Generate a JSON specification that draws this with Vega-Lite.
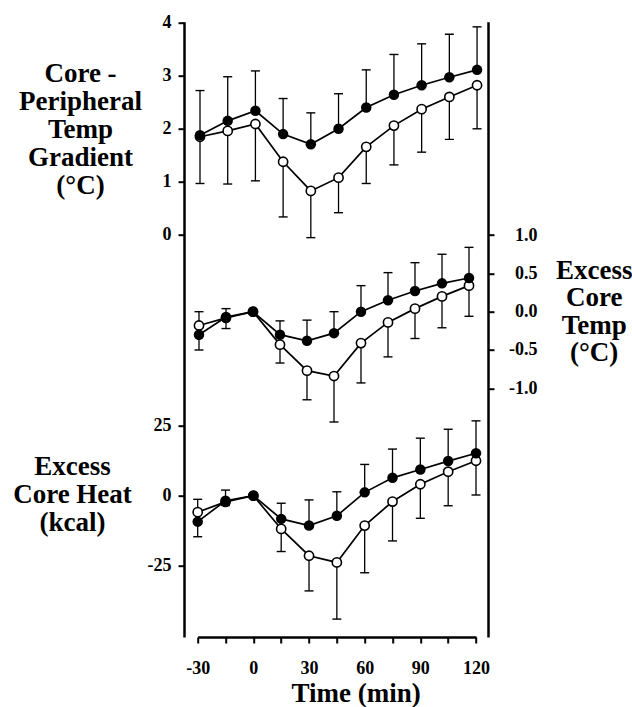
{
  "$schema": "https://vega.github.io/schema/vega-lite/v6.json",
  "width": 278.3,
  "height": 615.3,
  "autosize": "none",
  "padding": {"left": 197.7, "top": 21.7, "right": 156, "bottom": 70},
  "background": "white",
  "config": {
    "view": {"stroke": null},
    "axis": {
      "grid": false,
      "labelFont": "Liberation Serif",
      "labelFontWeight": "bold",
      "labelFontSize": 18,
      "labelColor": "black",
      "titleFont": "Liberation Serif",
      "titleFontWeight": "bold",
      "titleFontSize": 27,
      "titleColor": "black",
      "domainColor": "black",
      "domainWidth": 2.5,
      "tickColor": "black",
      "tickWidth": 2,
      "tickSize": 6,
      "labelOverlap": false,
      "labelFlush": false
    }
  },
  "data": {
    "values": [
      {"p": "top", "t": -30, "s": "f", "v": 1.88, "e": 2.72},
      {"p": "top", "t": -15, "s": "f", "v": 2.15, "e": 2.98},
      {"p": "top", "t": 0, "s": "f", "v": 2.34, "e": 3.09},
      {"p": "top", "t": 15, "s": "f", "v": 1.9, "e": 2.57},
      {"p": "top", "t": 30, "s": "f", "v": 1.71, "e": 2.3},
      {"p": "top", "t": 45, "s": "f", "v": 2.0, "e": 2.66},
      {"p": "top", "t": 60, "s": "f", "v": 2.4, "e": 3.11},
      {"p": "top", "t": 75, "s": "f", "v": 2.64, "e": 3.4},
      {"p": "top", "t": 90, "s": "f", "v": 2.82, "e": 3.6},
      {"p": "top", "t": 105, "s": "f", "v": 2.97, "e": 3.78},
      {"p": "top", "t": 120, "s": "f", "v": 3.11, "e": 3.92},
      {"p": "top", "t": -30, "s": "o", "v": 1.85, "e": 0.97},
      {"p": "top", "t": -15, "s": "o", "v": 1.96, "e": 0.96},
      {"p": "top", "t": 0, "s": "o", "v": 2.09, "e": 1.02},
      {"p": "top", "t": 15, "s": "o", "v": 1.38, "e": 0.34},
      {"p": "top", "t": 30, "s": "o", "v": 0.83, "e": -0.05},
      {"p": "top", "t": 45, "s": "o", "v": 1.08, "e": 0.42},
      {"p": "top", "t": 60, "s": "o", "v": 1.66, "e": 0.97},
      {"p": "top", "t": 75, "s": "o", "v": 2.06, "e": 1.32},
      {"p": "top", "t": 90, "s": "o", "v": 2.37, "e": 1.56},
      {"p": "top", "t": 105, "s": "o", "v": 2.6, "e": 1.8},
      {"p": "top", "t": 120, "s": "o", "v": 2.82, "e": 2.0},
      {"p": "mid", "t": -30, "s": "f", "v": -0.3, "e": 0.0},
      {"p": "mid", "t": -15, "s": "f", "v": -0.07, "e": 0.04},
      {"p": "mid", "t": 0, "s": "f", "v": 0.0, "e": 0.0},
      {"p": "mid", "t": 15, "s": "f", "v": -0.3, "e": -0.12},
      {"p": "mid", "t": 30, "s": "f", "v": -0.38, "e": -0.11},
      {"p": "mid", "t": 45, "s": "f", "v": -0.28, "e": 0.0},
      {"p": "mid", "t": 60, "s": "f", "v": 0.0, "e": 0.34},
      {"p": "mid", "t": 75, "s": "f", "v": 0.15, "e": 0.51},
      {"p": "mid", "t": 90, "s": "f", "v": 0.27, "e": 0.64},
      {"p": "mid", "t": 105, "s": "f", "v": 0.37, "e": 0.75},
      {"p": "mid", "t": 120, "s": "f", "v": 0.44, "e": 0.84},
      {"p": "mid", "t": -30, "s": "o", "v": -0.18, "e": -0.5},
      {"p": "mid", "t": -15, "s": "o", "v": -0.08, "e": -0.22},
      {"p": "mid", "t": 0, "s": "o", "v": 0.0, "e": 0.0},
      {"p": "mid", "t": 15, "s": "o", "v": -0.43, "e": -0.67},
      {"p": "mid", "t": 30, "s": "o", "v": -0.77, "e": -1.15},
      {"p": "mid", "t": 45, "s": "o", "v": -0.84, "e": -1.44},
      {"p": "mid", "t": 60, "s": "o", "v": -0.41, "e": -0.93},
      {"p": "mid", "t": 75, "s": "o", "v": -0.14, "e": -0.59},
      {"p": "mid", "t": 90, "s": "o", "v": 0.04, "e": -0.35},
      {"p": "mid", "t": 105, "s": "o", "v": 0.2, "e": -0.21},
      {"p": "mid", "t": 120, "s": "o", "v": 0.34, "e": -0.06},
      {"p": "bot", "t": -30, "s": "f", "v": -9.3, "e": -1.3},
      {"p": "bot", "t": -15, "s": "f", "v": -1.8, "e": 2.0},
      {"p": "bot", "t": 0, "s": "f", "v": 0.0, "e": 0.0},
      {"p": "bot", "t": 15, "s": "f", "v": -8.3, "e": -2.7},
      {"p": "bot", "t": 30, "s": "f", "v": -10.7, "e": -1.5},
      {"p": "bot", "t": 45, "s": "f", "v": -7.2, "e": 1.4},
      {"p": "bot", "t": 60, "s": "f", "v": 1.2, "e": 11.2},
      {"p": "bot", "t": 75, "s": "f", "v": 6.4, "e": 16.7},
      {"p": "bot", "t": 90, "s": "f", "v": 9.4, "e": 20.6},
      {"p": "bot", "t": 105, "s": "f", "v": 12.4, "e": 23.8},
      {"p": "bot", "t": 120, "s": "f", "v": 15.2, "e": 26.8},
      {"p": "bot", "t": -30, "s": "o", "v": -5.9, "e": -14.7},
      {"p": "bot", "t": -15, "s": "o", "v": -2.2, "e": -3.5},
      {"p": "bot", "t": 0, "s": "o", "v": 0.0, "e": 0.0},
      {"p": "bot", "t": 15, "s": "o", "v": -11.9, "e": -20.0},
      {"p": "bot", "t": 30, "s": "o", "v": -21.5, "e": -34.1},
      {"p": "bot", "t": 45, "s": "o", "v": -23.9, "e": -44.2},
      {"p": "bot", "t": 60, "s": "o", "v": -10.7, "e": -27.6},
      {"p": "bot", "t": 75, "s": "o", "v": -2.1, "e": -16.2},
      {"p": "bot", "t": 90, "s": "o", "v": 4.1, "e": -8.1},
      {"p": "bot", "t": 105, "s": "o", "v": 8.6, "e": -3.6},
      {"p": "bot", "t": 120, "s": "o", "v": 12.5, "e": 0.25}
    ]
  },
  "layer": [
    {
      "transform": [{"filter": "datum.p === 'top'"}],
      "mark": {"type": "rule", "strokeWidth": 1.3, "color": "black"},
      "encoding": {
        "x": {"field": "t", "type": "quantitative", "scale": {"domain": [-31.245, 119.43], "nice": false, "zero": false}, "axis": null},
        "y": {
          "field": "v", "type": "quantitative",
          "scale": {"domain": [-7.571, 4.017], "nice": false, "zero": false},
          "axis": {
            "orient": "left", "offset": 13.7, "values": [0, 1, 2, 3, 4], "labelPadding": 7,
            "title": ["Core -", "Peripheral", "Temp", "Gradient", "(°C)"],
            "titleAngle": 0, "titleX": -104, "titleY": 59.3, "titleAlign": "center", "titleBaseline": "alphabetic", "titleLineHeight": 28
          }
        },
        "y2": {"field": "e"}
      }
    },
    {
      "transform": [{"filter": "datum.p === 'top'"}],
      "mark": {"type": "tick", "orient": "horizontal", "size": 9, "thickness": 1.4, "color": "black", "opacity": 1},
      "encoding": {
        "x": {"field": "t", "type": "quantitative", "scale": {"domain": [-31.245, 119.43], "nice": false, "zero": false}, "axis": null},
        "y": {"field": "e", "type": "quantitative", "scale": {"domain": [-7.571, 4.017], "nice": false, "zero": false}, "axis": null}
      }
    },
    {
      "transform": [{"filter": "datum.p === 'top'"}],
      "mark": {"type": "line", "strokeWidth": 1.7, "color": "black"},
      "encoding": {
        "x": {"field": "t", "type": "quantitative", "scale": {"domain": [-31.245, 119.43], "nice": false, "zero": false}, "axis": null},
        "y": {"field": "v", "type": "quantitative", "scale": {"domain": [-7.571, 4.017], "nice": false, "zero": false}, "axis": null},
        "detail": {"field": "s"}
      }
    },
    {
      "transform": [{"filter": "datum.p === 'top' && datum.s === 'o'"}],
      "mark": {"type": "point", "shape": "circle", "filled": true, "fill": "white", "stroke": "black", "strokeWidth": 1.6, "size": 85, "opacity": 1},
      "encoding": {
        "x": {"field": "t", "type": "quantitative", "scale": {"domain": [-31.245, 119.43], "nice": false, "zero": false}, "axis": null},
        "y": {"field": "v", "type": "quantitative", "scale": {"domain": [-7.571, 4.017], "nice": false, "zero": false}, "axis": null}
      }
    },
    {
      "transform": [{"filter": "datum.p === 'top' && datum.s === 'f'"}],
      "mark": {"type": "point", "shape": "circle", "filled": true, "color": "black", "size": 110, "opacity": 1},
      "encoding": {
        "x": {"field": "t", "type": "quantitative", "scale": {"domain": [-31.245, 119.43], "nice": false, "zero": false}, "axis": null},
        "y": {"field": "v", "type": "quantitative", "scale": {"domain": [-7.571, 4.017], "nice": false, "zero": false}, "axis": null}
      }
    },
    {
      "transform": [{"filter": "datum.p === 'mid'"}],
      "mark": {"type": "rule", "strokeWidth": 1.3, "color": "black"},
      "encoding": {
        "x": {"field": "t", "type": "quantitative", "scale": {"domain": [-30.72, 123.89], "nice": false, "zero": false}, "axis": null},
        "y": {
          "field": "v", "type": "quantitative",
          "scale": {"domain": [-4.247, 3.786], "nice": false, "zero": false},
          "axis": {
            "orient": "right", "offset": 12, "values": [-1, -0.5, 0, 0.5, 1], "format": ".1f",
            "labelExpr": "replace(datum.label, '\u2212', '-')",
            "labelAlign": "right", "labelPadding": 43,
            "title": ["Excess", "Core", "Temp", "(°C)"],
            "titleAngle": 0, "titleX": 105.7, "titleY": 256.3, "titleAlign": "center", "titleBaseline": "alphabetic", "titleLineHeight": 27.5
          }
        },
        "y2": {"field": "e"}
      }
    },
    {
      "transform": [{"filter": "datum.p === 'mid'"}],
      "mark": {"type": "tick", "orient": "horizontal", "size": 9, "thickness": 1.4, "color": "black", "opacity": 1},
      "encoding": {
        "x": {"field": "t", "type": "quantitative", "scale": {"domain": [-30.72, 123.89], "nice": false, "zero": false}, "axis": null},
        "y": {"field": "e", "type": "quantitative", "scale": {"domain": [-4.247, 3.786], "nice": false, "zero": false}, "axis": null}
      }
    },
    {
      "transform": [{"filter": "datum.p === 'mid'"}],
      "mark": {"type": "line", "strokeWidth": 1.7, "color": "black"},
      "encoding": {
        "x": {"field": "t", "type": "quantitative", "scale": {"domain": [-30.72, 123.89], "nice": false, "zero": false}, "axis": null},
        "y": {"field": "v", "type": "quantitative", "scale": {"domain": [-4.247, 3.786], "nice": false, "zero": false}, "axis": null},
        "detail": {"field": "s"}
      }
    },
    {
      "transform": [{"filter": "datum.p === 'mid' && datum.s === 'o'"}],
      "mark": {"type": "point", "shape": "circle", "filled": true, "fill": "white", "stroke": "black", "strokeWidth": 1.6, "size": 85, "opacity": 1},
      "encoding": {
        "x": {"field": "t", "type": "quantitative", "scale": {"domain": [-30.72, 123.89], "nice": false, "zero": false}, "axis": null},
        "y": {"field": "v", "type": "quantitative", "scale": {"domain": [-4.247, 3.786], "nice": false, "zero": false}, "axis": null}
      }
    },
    {
      "transform": [{"filter": "datum.p === 'mid' && datum.s === 'f'"}],
      "mark": {"type": "point", "shape": "circle", "filled": true, "color": "black", "size": 110, "opacity": 1},
      "encoding": {
        "x": {"field": "t", "type": "quantitative", "scale": {"domain": [-30.72, 123.89], "nice": false, "zero": false}, "axis": null},
        "y": {"field": "v", "type": "quantitative", "scale": {"domain": [-4.247, 3.786], "nice": false, "zero": false}, "axis": null}
      }
    },
    {
      "transform": [{"filter": "datum.p === 'bot'"}],
      "mark": {"type": "rule", "strokeWidth": 1.3, "color": "black"},
      "encoding": {
        "x": {
          "field": "t", "type": "quantitative",
          "scale": {"domain": [-30, 120], "nice": false, "zero": false},
          "axis": {
            "values": [-30, -15, 0, 15, 30, 45, 60, 75, 90, 105, 120],
            "labelExpr": "datum.value % 30 === 0 ? replace(datum.label, '\u2212', '-') : ''",
            "labelPadding": 16,
            "title": "Time (min)", "titleX": 158, "titleY": 64.7, "titleAlign": "center", "titleBaseline": "alphabetic"
          }
        },
        "y": {
          "field": "v", "type": "quantitative",
          "scale": {"domain": [-50.61, 169.77], "nice": false, "zero": false},
          "axis": {
            "orient": "left", "offset": 13.7, "values": [-25, 0, 25], "domain": false, "labelPadding": 7,
            "labelExpr": "replace(datum.label, '\u2212', '-')",
            "title": ["Excess", "Core Heat", "(kcal)"],
            "titleAngle": 0, "titleX": -112, "titleY": 452.3, "titleAlign": "center", "titleBaseline": "alphabetic", "titleLineHeight": 28
          }
        },
        "y2": {"field": "e"}
      }
    },
    {
      "transform": [{"filter": "datum.p === 'bot'"}],
      "mark": {"type": "tick", "orient": "horizontal", "size": 9, "thickness": 1.4, "color": "black", "opacity": 1},
      "encoding": {
        "x": {"field": "t", "type": "quantitative", "scale": {"domain": [-30, 120], "nice": false, "zero": false}, "axis": null},
        "y": {"field": "e", "type": "quantitative", "scale": {"domain": [-50.61, 169.77], "nice": false, "zero": false}, "axis": null}
      }
    },
    {
      "transform": [{"filter": "datum.p === 'bot'"}],
      "mark": {"type": "line", "strokeWidth": 1.7, "color": "black"},
      "encoding": {
        "x": {"field": "t", "type": "quantitative", "scale": {"domain": [-30, 120], "nice": false, "zero": false}, "axis": null},
        "y": {"field": "v", "type": "quantitative", "scale": {"domain": [-50.61, 169.77], "nice": false, "zero": false}, "axis": null},
        "detail": {"field": "s"}
      }
    },
    {
      "transform": [{"filter": "datum.p === 'bot' && datum.s === 'o'"}],
      "mark": {"type": "point", "shape": "circle", "filled": true, "fill": "white", "stroke": "black", "strokeWidth": 1.6, "size": 85, "opacity": 1},
      "encoding": {
        "x": {"field": "t", "type": "quantitative", "scale": {"domain": [-30, 120], "nice": false, "zero": false}, "axis": null},
        "y": {"field": "v", "type": "quantitative", "scale": {"domain": [-50.61, 169.77], "nice": false, "zero": false}, "axis": null}
      }
    },
    {
      "transform": [{"filter": "datum.p === 'bot' && datum.s === 'f'"}],
      "mark": {"type": "point", "shape": "circle", "filled": true, "color": "black", "size": 110, "opacity": 1},
      "encoding": {
        "x": {"field": "t", "type": "quantitative", "scale": {"domain": [-30, 120], "nice": false, "zero": false}, "axis": null},
        "y": {"field": "v", "type": "quantitative", "scale": {"domain": [-50.61, 169.77], "nice": false, "zero": false}, "axis": null}
      }
    }
  ],
  "resolve": {"scale": {"x": "independent", "y": "independent"}}
}
